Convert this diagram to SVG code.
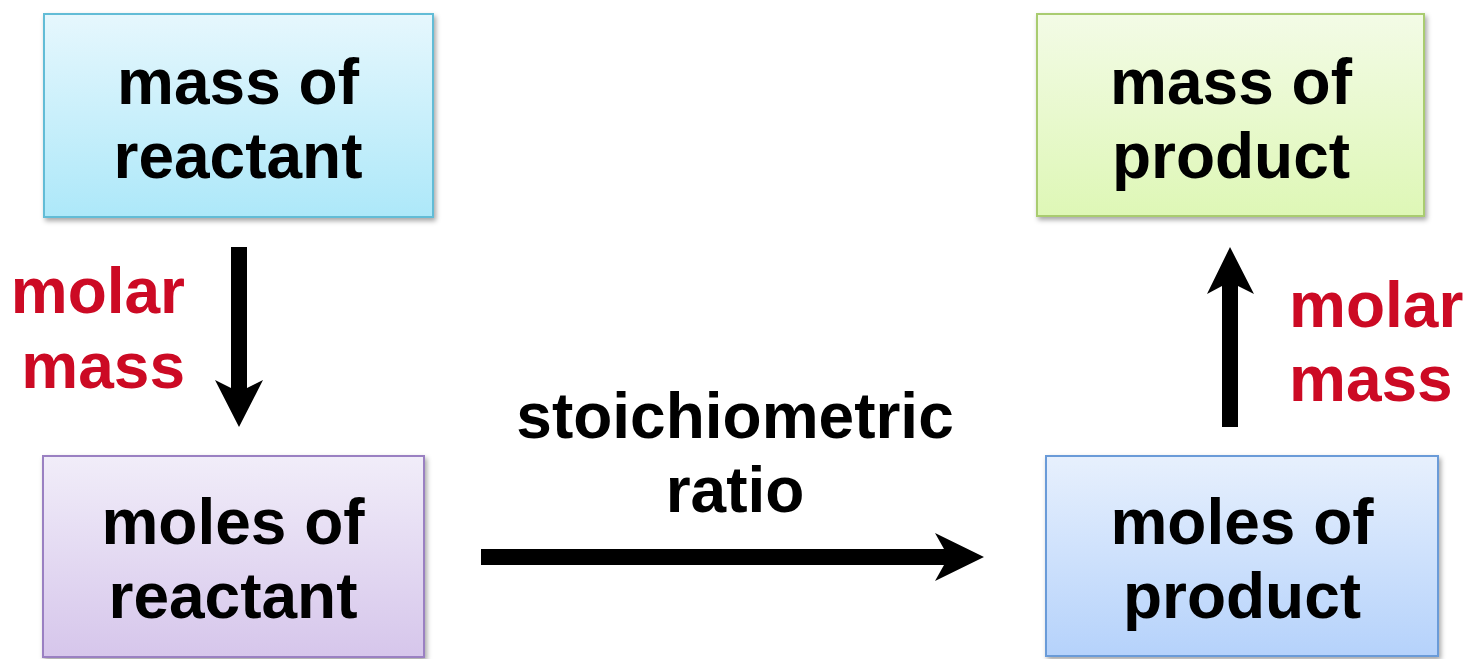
<svg xmlns="http://www.w3.org/2000/svg" width="1467" height="659" viewBox="0 0 1467 659">
<defs>
<linearGradient id="gBlue" x1="0" y1="0" x2="0" y2="1"><stop offset="0" stop-color="#e6f7fd"/><stop offset="1" stop-color="#ade8f9"/></linearGradient>
<linearGradient id="gGreen" x1="0" y1="0" x2="0" y2="1"><stop offset="0" stop-color="#f3fbe6"/><stop offset="1" stop-color="#def7b6"/></linearGradient>
<linearGradient id="gPurple" x1="0" y1="0" x2="0" y2="1"><stop offset="0" stop-color="#f1edf9"/><stop offset="1" stop-color="#d6c6eb"/></linearGradient>
<linearGradient id="gSky" x1="0" y1="0" x2="0" y2="1"><stop offset="0" stop-color="#e7f0fd"/><stop offset="1" stop-color="#b5d2fb"/></linearGradient>
<filter id="shadow" x="-5%" y="-5%" width="112%" height="115%"><feDropShadow dx="2" dy="3" stdDeviation="2.5" flood-color="#000" flood-opacity="0.35"/></filter>
</defs>
<style>
.lbl{font-family:"Liberation Sans",Arial,sans-serif;font-weight:bold;font-size:64px;fill:#000;text-anchor:middle}
.red{font-family:"Liberation Sans",Arial,sans-serif;font-weight:bold;font-size:64px;fill:#cc0a24}
.box{stroke-width:2;filter:url(#shadow)}
</style>
<rect width="1467" height="659" fill="#fff"/>
<g id="mass-reactant">
<rect class="box" x="44" y="14" width="389" height="203" fill="url(#gBlue)" stroke="#62bcd6"/>
<text class="lbl" x="238" y="104">mass of</text>
<text class="lbl" x="238" y="178">reactant</text>
</g>
<g id="mass-product">
<rect class="box" x="1037" y="14" width="387" height="202" fill="url(#gGreen)" stroke="#a9cc70"/>
<text class="lbl" x="1231" y="104">mass of</text>
<text class="lbl" x="1231" y="178">product</text>
</g>
<g id="moles-reactant">
<rect class="box" x="43" y="456" width="381" height="201" fill="url(#gPurple)" stroke="#9a80c2"/>
<text class="lbl" x="233" y="544">moles of</text>
<text class="lbl" x="233" y="618">reactant</text>
</g>
<g id="moles-product">
<rect class="box" x="1046" y="456" width="392" height="200" fill="url(#gSky)" stroke="#6b9bd8"/>
<text class="lbl" x="1242" y="544">moles of</text>
<text class="lbl" x="1242" y="618">product</text>
</g>
<g id="connectors" fill="#000">
<polygon points="231,247 247,247 247,388 263,380 239,427 215,380 231,388"/>
<polygon points="481,549 944,549 935,533 984,557 935,581 944,565 481,565"/>
<polygon points="1222,427 1238,427 1238,286 1254,294 1230,247 1207,294 1222,286"/>
</g>
<g id="labels">
<text class="red" x="185" y="313" text-anchor="end">molar</text>
<text class="red" x="185" y="388" text-anchor="end">mass</text>
<text class="red" x="1289" y="327">molar</text>
<text class="red" x="1289" y="401">mass</text>
<text class="lbl" x="735" y="438">stoichiometric</text>
<text class="lbl" x="735" y="512">ratio</text>
</g>
</svg>
